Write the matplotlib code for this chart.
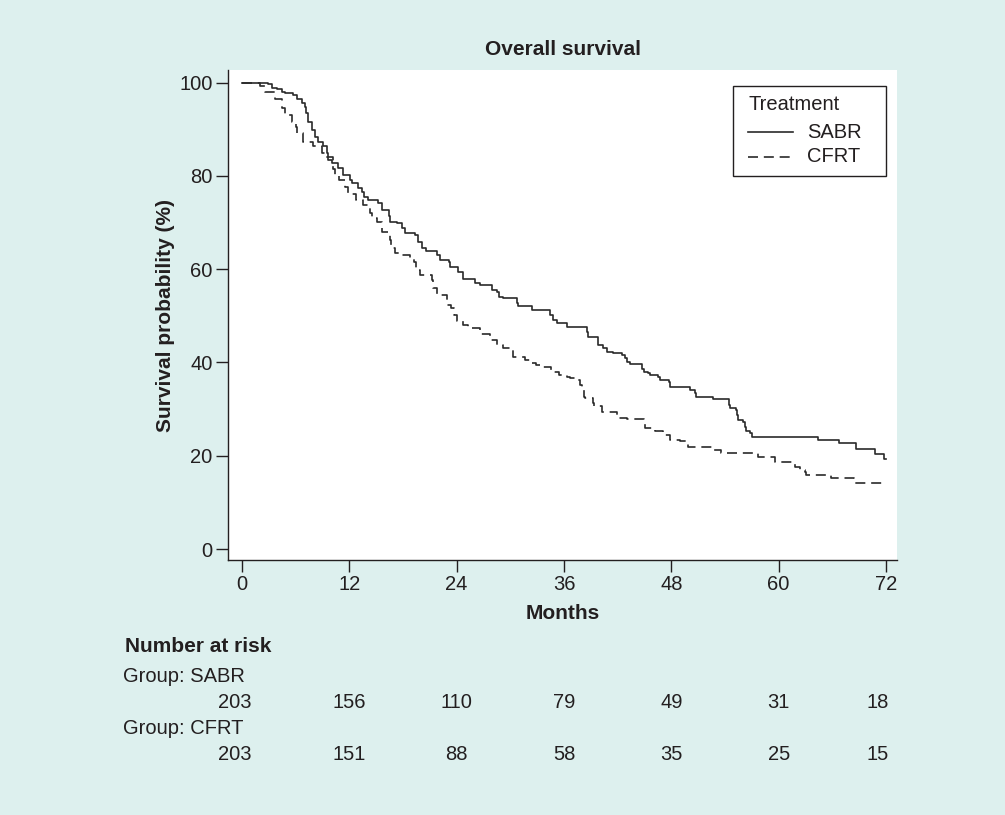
import matplotlib
matplotlib.use("Agg")
import matplotlib.pyplot as plt
from matplotlib.lines import Line2D
from matplotlib.patches import Rectangle
from matplotlib.transforms import blended_transform_factory

plt.rcParams['font.family'] = ['Liberation Sans', 'DejaVu Sans']

# ---- data ----
sabr_t = [0, 2.9, 3.35, 3.9, 4.5, 4.8, 5.7, 6.1, 6.7, 7.0, 7.2, 7.4, 7.8, 8.2, 8.5, 9.1, 9.5, 9.6,
          10.1, 10.7, 11.3, 12.1, 12.3, 13.0, 13.4, 13.6, 14.1, 15.2, 15.6, 16.4, 16.5, 17.3, 17.9,
          18.2, 19.3, 19.7, 20.1, 20.6, 21.8, 22.1, 23.1, 23.3, 24.2, 24.7, 26.05, 26.6, 27.9, 28.5,
          28.7, 29.2, 30.7, 30.9, 32.4, 34.4, 34.8, 35.2, 36.3, 38.6, 38.7, 39.8, 40.4, 40.8, 41.5,
          42.5, 42.8, 43.0, 43.4, 44.7, 44.9, 45.4, 45.6, 46.5, 46.7, 47.7, 47.8, 50.1, 50.6, 50.8,
          52.7, 54.4, 54.6, 55.2, 55.3, 55.5, 56.05, 56.2, 56.4, 56.8, 57.0, 64.4, 66.7, 68.7, 70.8,
          71.8, 72.0]
sabr_s = [100, 99.6, 98.9, 98.6, 98.0, 97.7, 97.3, 96.5, 95.6, 94.8, 93.5, 91.6, 89.8, 88.4, 87.3,
          86.3, 84.9, 83.4, 82.7, 81.7, 80.2, 79.1, 78.4, 77.4, 76.6, 75.5, 74.8, 74.1, 72.7, 71.3,
          70.2, 69.8, 68.8, 67.7, 67.3, 65.9, 64.5, 63.8, 63.0, 62.0, 61.6, 60.5, 59.5, 58.0, 57.0,
          56.6, 55.5, 55.2, 54.1, 53.8, 52.7, 52.0, 51.2, 50.2, 49.1, 48.4, 47.7, 46.5, 45.5, 43.7,
          43.0, 42.3, 42.0, 41.6, 40.9, 40.2, 39.6, 38.7, 38.0, 37.7, 37.3, 36.9, 36.2, 35.9, 34.8,
          34.1, 33.4, 32.7, 32.1, 30.9, 30.2, 29.8, 28.7, 27.7, 27.3, 26.2, 25.2, 24.8, 24.1, 23.4,
          22.7, 21.4, 20.3, 19.3, 19.3]

cfrt_t = [0, 2.0, 2.6, 3.7, 4.5, 4.8, 5.55, 6.0, 6.2, 6.85, 7.9, 8.9, 9.3, 10.2, 10.4, 10.8, 11.5,
          11.9, 12.8, 13.5, 14.3, 14.5, 15.1, 15.6, 16.5, 16.7, 17.1, 17.7, 18.8, 19.2, 19.5, 19.9,
          21.2, 21.4, 21.8, 22.9, 23.4, 23.7, 24.0, 24.7, 25.3, 26.6, 27.7, 28.5, 29.2, 30.3, 31.6,
          32.2, 32.9, 33.5, 34.6, 35.4, 36.3, 36.7, 37.2, 37.8, 38.0, 38.2, 38.35, 39.2, 39.3, 40.2,
          41.9, 43.0, 44.9, 45.1, 46.2, 47.1, 47.3, 47.9, 49.0, 49.7, 49.9, 52.5, 52.7, 53.6, 57.7,
          59.6, 61.8, 62.4, 62.9, 63.1, 65.9, 68.4, 71.9]
cfrt_s = [100, 99.3, 97.9, 96.4, 94.5, 93.1, 91.6, 90.5, 89.1, 87.3, 86.3, 84.8, 84.1, 81.5, 80.0,
          79.1, 77.7, 76.2, 74.8, 73.8, 72.0, 70.9, 70.2, 68.0, 66.3, 64.5, 63.4, 63.0, 62.3, 61.6,
          59.8, 58.7, 57.7, 55.9, 54.5, 52.3, 51.6, 50.2, 48.9, 48.0, 47.3, 46.2, 44.8, 43.7, 43.0,
          41.2, 40.5, 39.8, 39.5, 39.1, 38.0, 37.3, 36.9, 36.6, 36.2, 35.2, 34.1, 32.7, 32.3, 31.3,
          30.7, 29.4, 28.0, 27.8, 27.3, 25.9, 25.2, 24.9, 24.4, 23.4, 23.2, 22.7, 21.9, 21.6, 21.2,
          20.6, 19.8, 18.7, 17.5, 16.9, 16.6, 15.9, 15.2, 14.2, 14.2]

risk_times = [0, 12, 24, 36, 48, 60, 72]
risk_sabr = [203, 156, 110, 79, 49, 31, 18]
risk_cfrt = [203, 151, 88, 58, 35, 25, 15]
x_ticks = [0, 12, 24, 36, 48, 60, 72]
y_ticks = [0, 20, 40, 60, 80, 100]
legend_title = 'Treatment'
legend_labels = ['SABR', 'CFRT']

# ---- figure ----
W, H = 1005, 815
bg = '#DDF0EE'
txt = '#231F20'
line_c = '#2a2a2a'
DASH = (6.0, 3.5)
fig = plt.figure(figsize=(W / 100, H / 100), dpi=100, facecolor=bg)
AX_L, AX_R, AX_T, AX_B = 228, 897, 70, 560
ax = fig.add_axes([AX_L / W, 1 - AX_B / H, (AX_R - AX_L) / W, (AX_B - AX_T) / H])
ax.set_facecolor('white')

ax.plot(sabr_t, sabr_s, drawstyle='steps-post', color=line_c, lw=1.2, label=legend_labels[0])
ax.plot(cfrt_t, cfrt_s, drawstyle='steps-post', color=line_c, lw=1.2, dashes=DASH,
        label=legend_labels[1])

ax.set_xlim(-1.565, 73.23)
ax.set_ylim(-2.35, 102.7)
ax.set_xticks(x_ticks)
ax.set_yticks(y_ticks)
for s in ['top', 'right']:
    ax.spines[s].set_visible(False)
for s in ['left', 'bottom']:
    ax.spines[s].set_color(txt)
    ax.spines[s].set_linewidth(1.0)
ax.tick_params(axis='both', direction='out', length=8.5, width=1.0, color=txt,
               labelsize=14.5, labelcolor=txt, pad=2.5)

ax.set_title('Overall survival', fontsize=15, fontweight='bold', color=txt, pad=11)
ax.set_xlabel('Months', fontsize=15, fontweight='bold', color=txt, labelpad=7)
ax.set_ylabel('Survival probability (%)', fontsize=15, fontweight='bold', color=txt, labelpad=3)

# ---- legend box drawn in axes-fraction coordinates ----
def axx(px):
    return (px - AX_L) / (AX_R - AX_L)

def axy(py):
    return (AX_B - py) / (AX_B - AX_T)

ax.add_patch(Rectangle((axx(733), axy(176)), axx(886) - axx(733), axy(86) - axy(176),
                       transform=ax.transAxes, facecolor='white', edgecolor=txt, lw=1.0,
                       zorder=5))
ax.text(axx(748), axy(105), legend_title, transform=ax.transAxes, fontsize=14.5, color=txt,
        ha='left', va='center', zorder=6)
for i, (lab, ypx) in enumerate(zip(legend_labels, (132, 157))):
    kw = {} if i == 0 else {'dashes': DASH}
    ax.add_line(Line2D([axx(748), axx(793)], [axy(ypx), axy(ypx)], transform=ax.transAxes,
                       color=line_c, lw=1.2, zorder=6, **kw))
    ax.text(axx(807), axy(ypx), lab, transform=ax.transAxes, fontsize=14.5, color=txt,
            ha='left', va='center', zorder=6)

# ---- number at risk table ----
def fy(py):
    return 1 - py / H

fig.text(125 / W, fy(647), 'Number at risk', fontsize=15, fontweight='bold', color=txt,
         ha='left', va='center')
fig.text(123 / W, fy(677), 'Group: SABR', fontsize=14.5, color=txt, ha='left', va='center')
fig.text(123 / W, fy(728), 'Group: CFRT', fontsize=14.5, color=txt, ha='left', va='center')

trans = blended_transform_factory(ax.transData, fig.transFigure)
for row, ypx in ((risk_sabr, 702), (risk_cfrt, 755)):
    for i, (t, n) in enumerate(zip(risk_times, row)):
        if i == 0:
            x, ha = t + 1.1, 'right'
        elif i == len(risk_times) - 1:
            x, ha = t + 0.3, 'right'
        else:
            x, ha = t, 'center'
        fig.text(x, fy(ypx), str(n), transform=trans, fontsize=14.5, color=txt,
                 ha=ha, va='center')

fig.savefig('out.png', dpi=100, facecolor=bg)
